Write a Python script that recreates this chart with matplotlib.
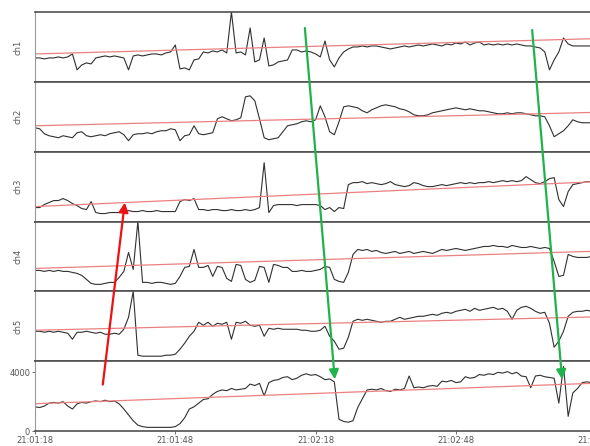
import numpy as np
import matplotlib
matplotlib.use('Agg')
import matplotlib.pyplot as plt
import matplotlib.dates as mdates
from matplotlib.patches import ConnectionPatch

# time axis: one sample per second from 21:01:18
start = np.datetime64('2014-01-01T21:01:18')
n_sec = 126
times = start + np.arange(n_sec).astype('timedelta64[s]')

channels = ['ch1', 'ch2', 'ch3', 'ch4', 'ch5']

# channel traces (panel units, 0 = bottom, 70 = top)
ch1 = [24, 24, 23, 24, 24, 25, 24, 25, 28, 12, 17, 19, 18, 24, 25, 26, 25, 26, 25, 24,
       12, 26, 27, 26, 27, 28, 28, 27, 29, 30, 37, 13, 14, 12, 22, 23, 30, 29, 31, 30,
       32, 29, 70, 29, 30, 27, 54, 20, 22, 44, 16, 17, 20, 21, 22, 32, 32, 30, 31, 30,
       28, 25, 41, 22, 15, 24, 30, 33, 35, 35, 36, 35, 36, 36, 35, 34, 33, 34, 35, 36,
       35, 36, 37, 36, 37, 38, 37, 36, 38, 37, 39, 38, 40, 37, 39, 40, 37, 38, 37, 38,
       37, 38, 37, 38, 37, 36, 36, 35, 34, 30, 12, 22, 30, 44, 38, 36, 36, 36, 36, 36,
       37, 36, 37, 36, 36, 37]
ch2 = [24, 23, 18, 16, 15, 14, 16, 15, 14, 19, 20, 16, 15, 16, 17, 16, 18, 19, 20, 17,
       11, 17, 18, 18, 19, 18, 20, 21, 21, 23, 22, 11, 16, 17, 26, 18, 17, 18, 19, 33,
       35, 33, 31, 32, 34, 55, 56, 51, 33, 14, 12, 13, 14, 20, 26, 27, 28, 30, 31, 30,
       32, 46, 35, 20, 17, 30, 45, 46, 45, 44, 41, 39, 42, 44, 46, 47, 46, 45, 43, 42,
       40, 37, 36, 36, 37, 39, 40, 41, 42, 43, 44, 43, 42, 43, 42, 41, 41, 40, 39, 38,
       38, 39, 38, 39, 39, 38, 37, 36, 36, 35, 26, 15, 18, 21, 26, 32, 30, 29, 29, 29,
       30, 30, 31, 30, 30, 31]
ch3 = [14, 14, 17, 19, 21, 21, 23, 21, 18, 16, 13, 12, 20, 9, 8, 8, 9, 9, 9, 10,
       11, 10, 10, 11, 10, 10, 11, 10, 10, 10, 10, 20, 22, 21, 23, 12, 12, 11, 12, 12,
       11, 11, 12, 11, 11, 12, 11, 12, 14, 59, 9, 16, 17, 17, 17, 17, 16, 17, 17, 17,
       17, 16, 12, 14, 10, 14, 13, 37, 39, 39, 40, 38, 39, 38, 37, 38, 40, 37, 36, 35,
       36, 39, 38, 36, 35, 35, 36, 37, 36, 37, 38, 39, 38, 39, 38, 39, 39, 40, 39, 40,
       41, 40, 41, 40, 41, 45, 42, 39, 38, 40, 43, 44, 22, 15, 30, 37, 38, 39, 40, 40,
       39, 40, 41, 40, 40, 41]
ch4 = [21, 21, 20, 21, 20, 21, 20, 20, 19, 18, 16, 12, 8, 7, 7, 8, 9, 9, 14, 20,
       39, 22, 70, 9, 9, 8, 9, 9, 8, 7, 8, 15, 24, 25, 42, 24, 24, 26, 15, 25,
       24, 13, 10, 27, 26, 12, 9, 11, 25, 24, 9, 27, 26, 24, 24, 20, 20, 21, 20, 20,
       21, 22, 25, 24, 12, 10, 9, 19, 37, 42, 41, 42, 40, 41, 39, 38, 39, 40, 38, 39,
       40, 38, 39, 40, 39, 38, 40, 42, 41, 42, 43, 42, 41, 42, 43, 44, 45, 45, 46, 45,
       45, 44, 46, 45, 44, 44, 45, 44, 43, 44, 43, 30, 15, 16, 37, 35, 34, 34, 34, 35,
       34, 34, 35, 34, 35, 35]
ch5 = [30, 30, 29, 30, 29, 30, 29, 28, 22, 29, 29, 30, 29, 28, 29, 27, 27, 28, 27, 32,
       44, 70, 6, 5, 5, 5, 5, 5, 6, 6, 7, 12, 18, 25, 30, 39, 36, 39, 35, 38,
       37, 39, 22, 39, 38, 40, 36, 35, 36, 25, 33, 32, 33, 32, 32, 32, 32, 31, 31, 30,
       30, 31, 35, 25, 20, 12, 13, 24, 40, 42, 41, 42, 41, 40, 39, 40, 40, 42, 44, 42,
       43, 44, 45, 45, 46, 47, 46, 48, 49, 48, 50, 51, 52, 50, 53, 51, 52, 53, 54, 52,
       53, 50, 42, 51, 54, 55, 53, 50, 48, 49, 38, 14, 20, 30, 45, 49, 50, 50, 51, 50,
       50, 51, 50, 51, 50, 50]
# bottom panel (raw counts)
total = [1650, 1600, 1700, 1900, 1950, 1900, 2000, 1700, 1500, 1850, 1950, 1900, 2000, 2050,
         2000, 2100, 2000, 2050, 1850, 1500, 1100, 700, 400, 300, 250, 250, 250, 250,
         250, 250, 300, 500, 900, 1500, 1650, 1900, 2150, 2200, 2500, 2700, 2800, 2750,
         2900, 2800, 2850, 2900, 3200, 3100, 3250, 2400, 3300, 3450, 3500, 3650, 3700, 3500,
         3600, 3800, 3900, 3800, 3850, 3700, 3500, 3550, 3350, 800, 650, 600, 700, 1600,
         2200, 2800, 2850, 2800, 2900, 2750, 2700, 2850, 2800, 2900, 3750, 2950, 3000, 2950,
         3050, 3100, 3050, 3400, 3350, 3450, 3300, 3350, 3700, 3600, 3650, 3850, 3800, 3900,
         3850, 4000, 3950, 4050, 3900, 4000, 3750, 3700, 2950, 3750, 3800, 3700, 3650, 3600,
         1900, 4400, 1000, 2600, 2900, 3300, 3350, 3300, 3350, 3400, 3350, 3400, 3350, 3400]

# red trend line: value at first and last sample
trends = [(28, 44), (26, 40), (15, 41), (23, 41), (31, 45), (1860, 3320)]

# arrows: (panel, second, value) tail -> head
arrows = [
    ('#ee1111', (5, 14.5, 3170), (2, 19.2, 19)),
    ('#22b24c', (0, 57.7, 54), (5, 64.1, 3520)),
    ('#22b24c', (0, 106.3, 52), (5, 112.7, 3520)),
]

series = [ch1, ch2, ch3, ch4, ch5, total]

fig, axes = plt.subplots(6, 1, figsize=(5.9, 4.46), dpi=100, sharex=True,
                         gridspec_kw=dict(hspace=0))
fig.subplots_adjust(left=0.0593, right=1.0502, top=0.973, bottom=0.0336)

tnum = mdates.date2num(times.astype('datetime64[ms]').astype(object))

for i, ax in enumerate(axes):
    ax.plot(tnum, series[i], color='#303030', lw=0.8)
    ax.plot([tnum[0], tnum[-1]], trends[i], color='#ec8080', lw=0.9)
    ax.set_xlim(tnum[0], tnum[-1])
    for side in ['top', 'bottom', 'right']:
        ax.spines[side].set_color('#505050')
        ax.spines[side].set_linewidth(1.2)
    ax.spines['left'].set_color('#999999')
    ax.spines['left'].set_linewidth(0.8)
    if i < 5:
        ax.set_ylim(0, 70)
        ax.set_yticks([])
        ax.set_ylabel(channels[i], fontsize=6, color='#555555', labelpad=9)
        ax.tick_params(axis='x', length=0)
    else:
        ax.set_ylim(0, 4760)
        ax.set_yticks([0, 4000])
        ax.tick_params(axis='y', labelsize=6, colors='#555555', length=2.5, width=0.6, pad=1)
        ax.tick_params(axis='x', labelsize=6, colors='#555555', length=2.5, width=0.6, pad=1)

axes[-1].xaxis.set_major_locator(mdates.SecondLocator(bysecond=[18, 48]))
axes[-1].xaxis.set_major_formatter(mdates.DateFormatter('%H:%M:%S'))

for color, tail, head in arrows:
    pa, sa, va = tail
    pb, sb, vb = head
    xa = tnum[0] + sa / 86400.0
    xb = tnum[0] + sb / 86400.0
    con = ConnectionPatch((xa, va), (xb, vb), coordsA=axes[pa].transData,
                          coordsB=axes[pb].transData, arrowstyle='-|>',
                          mutation_scale=14, color=color, lw=1.6)
    fig.add_artist(con)

plt.savefig('out.png', dpi=100)
